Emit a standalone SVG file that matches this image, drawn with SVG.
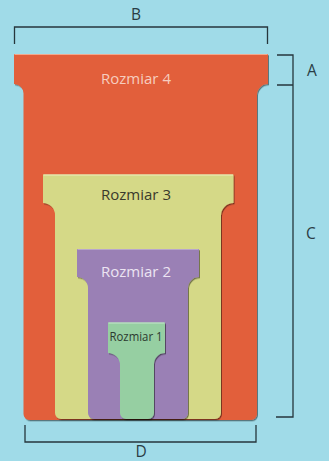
<svg xmlns="http://www.w3.org/2000/svg" width="329" height="461" viewBox="0 0 329 461">
<style>
.lbl{font-family:"Open Sans","Liberation Sans",sans-serif;font-size:15px;text-anchor:middle}
.dim{fill:none;stroke:#26363c;stroke-width:1.3}
.dl{font-family:"Open Sans","Liberation Sans",sans-serif;font-size:15.5px;fill:#2a3d45;text-anchor:middle}
.hl{fill:none;stroke-width:1.2}
</style>
<defs>
<filter id="sh" x="-10%" y="-10%" width="120%" height="120%">
<feDropShadow dx="1" dy="1.3" stdDeviation="0.6" flood-color="#000" flood-opacity="0.45"/>
</filter>
</defs>
<rect width="329" height="461" fill="#a0dbe8"/>
<g id="size4">
<path filter="url(#sh)" fill="#e25e3a" d="M14,54 H268 V84 A11 11 0 0 0 257,95 V414 A6 6 0 0 1 251,420 H29.5 A6 6 0 0 1 23.5,414 V93.5 A9.5 9.5 0 0 0 14,84 Z"/>
<line class="hl" stroke="#f2a98e" x1="14.5" y1="54.5" x2="267.5" y2="54.5"/>
<text class="lbl" x="136" y="84" fill="#f6cdbf">Rozmiar 4</text>
</g>
<g id="size3">
<path filter="url(#sh)" fill="#d5d987" d="M43,174.5 H233.5 V203 A12.5 12.5 0 0 0 221,215.5 V413 A6 6 0 0 1 215,419 H61 A6 6 0 0 1 55,413 V215 A12 12 0 0 0 43,203 Z"/>
<line class="hl" stroke="#eef0c0" x1="43.5" y1="175" x2="233" y2="175"/>
<text class="lbl" x="136" y="200" fill="#3a3a2c">Rozmiar 3</text>
</g>
<g id="size2">
<path filter="url(#sh)" fill="#9a80b5" d="M77,249 H199 V277 A11 11 0 0 0 188,288 V413 A6 6 0 0 1 182,419 H94 A6 6 0 0 1 88,413 V288 A11 11 0 0 0 77,277 Z"/>
<line class="hl" stroke="#b8a6cc" x1="77.5" y1="249.5" x2="198.5" y2="249.5"/>
<text class="lbl" x="136" y="277" fill="#ece4f2">Rozmiar 2</text>
</g>
<g id="size1">
<path filter="url(#sh)" fill="#96cfa2" d="M108,322.5 H165 V353 A11 11 0 0 0 154,364 V413 A6 6 0 0 1 148,419 H126 A6 6 0 0 1 120,413 V365 A12 12 0 0 0 108,353 Z"/>
<line class="hl" stroke="#c4e6cb" x1="108.5" y1="323" x2="164.5" y2="323"/>
<text class="lbl" x="136" y="341" fill="#2c3a30" style="font-size:12.5px" textLength="53" lengthAdjust="spacingAndGlyphs">Rozmiar 1</text>
</g>
<g id="connectors">
<path class="dim" d="M14.5,44 V27 H267.5 V44"/>
<path class="dim" d="M277,55 H293 V417 H276 M277,85 H293"/>
<path class="dim" d="M25,425 V442 H256 V425"/>
</g>
<g id="labels">
<text class="dl" x="136" y="20">B</text>
<text class="dl" x="312" y="76">A</text>
<text class="dl" x="311" y="239">C</text>
<text class="dl" x="141" y="457">D</text>
</g>
</svg>
